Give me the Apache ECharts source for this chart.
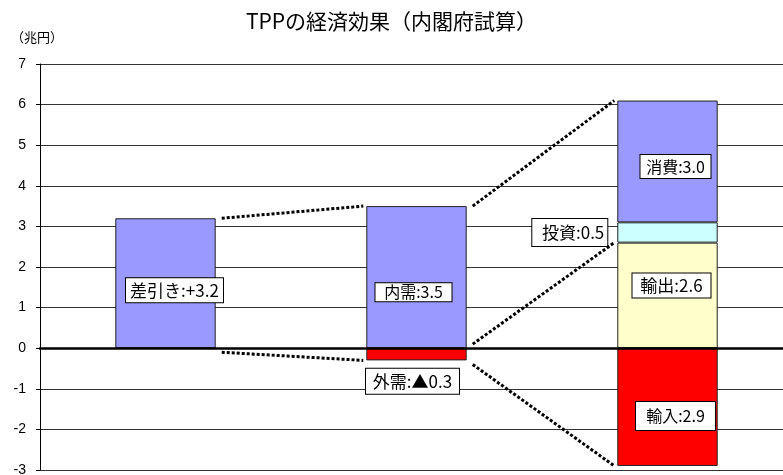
<!doctype html>
<html lang="ja">
<head>
<meta charset="UTF-8">
<title>TPPの経済効果（内閣府試算）</title>
<script src="https://cdn.jsdelivr.net/npm/echarts@6/dist/echarts.min.js"></script>
<style>
  html, body { margin: 0; padding: 0; background: #fff; }
  #chart { width: 783px; height: 475px; }
</style>
</head>
<body>
<div id="chart"></div>
<script>
  // データ（兆円）
  var categories = ['差引き', '内需・外需', '内訳'];
  var exportVals = ['-', '-', 2.6];     // 輸出
  var investVals = ['-', '-', 0.5];     // 投資
  var mainVals = [3.2, 3.5, 3.0];       // 差引き / 内需 / 消費
  var minusVals = ['-', -0.3, -2.9];    // 外需 / 輸入

  var exportLabels = ['', '', '輸出:2.6'];
  var investLabels = ['', '', '投資:0.5'];
  var mainLabels = ['差引き:+3.2', '内需:3.5', '消費:3.0'];
  var minusLabels = ['', '外需:▲0.3', '輸入:2.9'];

  function num(v) { return v === '-' ? 0 : v; }
  var posTop = categories.map(function (c, i) {
    return num(exportVals[i]) + num(investVals[i]) + num(mainVals[i]);
  });
  var negBottom = categories.map(function (c, i) { return num(minusVals[i]); });

  // 点線の接続 [from, 値, to, 値]
  var zeroGap = 0.1;
  var connectors = [
    [0, posTop[0], 1, posTop[1]],
    [0, -zeroGap, 1, negBottom[1]],
    [1, posTop[1], 2, posTop[2]],
    [1, zeroGap, 2, exportVals[2]],
    [1, negBottom[1] - zeroGap, 2, negBottom[2]]
  ];

  var half = 0.2;
  var font = '"Noto Sans CJK JP", sans-serif';

  function box(w, h, fs, extra) {
    var o = {
      show: true,
      color: '#000',
      fontFamily: font,
      fontSize: fs,
      backgroundColor: '#fff',
      borderColor: '#000',
      borderWidth: 1,
      padding: [0, 3],
      width: w - 6,
      height: h,
      lineHeight: h,
      position: 'inside'
    };
    for (var k in extra) o[k] = extra[k];
    return o;
  }

  // ラベルの配置
  var mainLabelStyle = [
    box(97, 24, 17, { offset: [9, 7] }),
    box(76, 18, 16, { offset: [-3, 15] }),
    box(70, 23, 16, { offset: [8, 5] })
  ];
  var minusLabelStyle = [
    null,
    box(93, 25, 17, { offset: [-4, 27] }),
    box(79, 28, 16, { offset: [8, 9] })
  ];
  var exportLabelStyle = [null, null, box(78, 24, 17, { offset: [4, -10] })];
  var investLabelStyle = [null, null, box(75, 27, 17, { position: 'left', distance: 10 })];

  function items(vals, texts, styles) {
    return vals.map(function (v, i) {
      var it = { value: v };
      if (styles[i] && texts[i]) {
        var l = {};
        for (var k in styles[i]) l[k] = styles[i][k];
        l.formatter = texts[i];
        it.label = l;
      }
      return it;
    });
  }

  var barBase = {
    type: 'bar',
    stack: 'all',
    barWidth: '40%',
    xAxisIndex: 0,
    yAxisIndex: 0,
    label: { show: false },
    emphasis: { disabled: true }
  };
  function bar(name, color, data) {
    var s = {};
    for (var k in barBase) s[k] = barBase[k];
    s.name = name;
    s.data = data;
    s.itemStyle = { color: color, borderColor: '#222', borderWidth: 1 };
    return s;
  }

  var series = [
    bar('輸出', '#FFFFCC', items(exportVals, exportLabels, exportLabelStyle)),
    bar('投資', '#CCFFFF', items(investVals, investLabels, investLabelStyle)),
    bar('内需', '#9999FF', items(mainVals, mainLabels, mainLabelStyle)),
    bar('外需', '#FF0000', items(minusVals, minusLabels, minusLabelStyle))
  ];

  connectors.forEach(function (c) {
    series.push({
      type: 'line',
      xAxisIndex: 1,
      yAxisIndex: 0,
      symbol: 'none',
      silent: true,
      z: 5,
      lineStyle: { color: '#000', width: 3, type: [3, 2] },
      data: [[c[0] + 0.5 + half + 0.024, c[1]], [c[2] + 0.5 - half - 0.012, c[3]]]
    });
  });

  var chart = echarts.init(document.getElementById('chart'));
  var option = {
    animation: false,
    title: [
      {
        text: 'TPPの経済効果（内閣府試算）',
        left: 'center',
        top: 6,
        textStyle: { fontFamily: font, fontSize: 21, fontWeight: 'normal', color: '#000' }
      },
      {
        text: '（兆円）',
        left: 6,
        top: 26,
        textStyle: { fontFamily: font, fontSize: 13, fontWeight: 'normal', color: '#000' }
      }
    ],
    // プロット領域は右端の外まで続く
    grid: { left: 40, top: 64, width: 753, height: 406, outerBoundsMode: 'none' },
    xAxis: [
      {
        type: 'category',
        data: categories,
        axisLine: { onZero: true, lineStyle: { color: '#000', width: 2.5 } },
        axisTick: { show: false },
        axisLabel: { show: false },
        z: 4
      },
      {
        type: 'value',
        min: 0,
        max: 3,
        show: false,
        position: 'top'
      }
    ],
    yAxis: {
      type: 'value',
      min: -3,
      max: 7,
      interval: 1,
      axisLine: { show: true, lineStyle: { color: '#000', width: 1 } },
      axisTick: { show: true, length: 4, lineStyle: { color: '#000' } },
      axisLabel: { color: '#000', fontFamily: 'Liberation Sans, Arial, sans-serif', fontSize: 14, margin: 14 },
      splitLine: { show: true, lineStyle: { color: '#333', width: 1 } }
    },
    series: series
  };
  chart.setOption(option);
</script>
</body>
</html>
